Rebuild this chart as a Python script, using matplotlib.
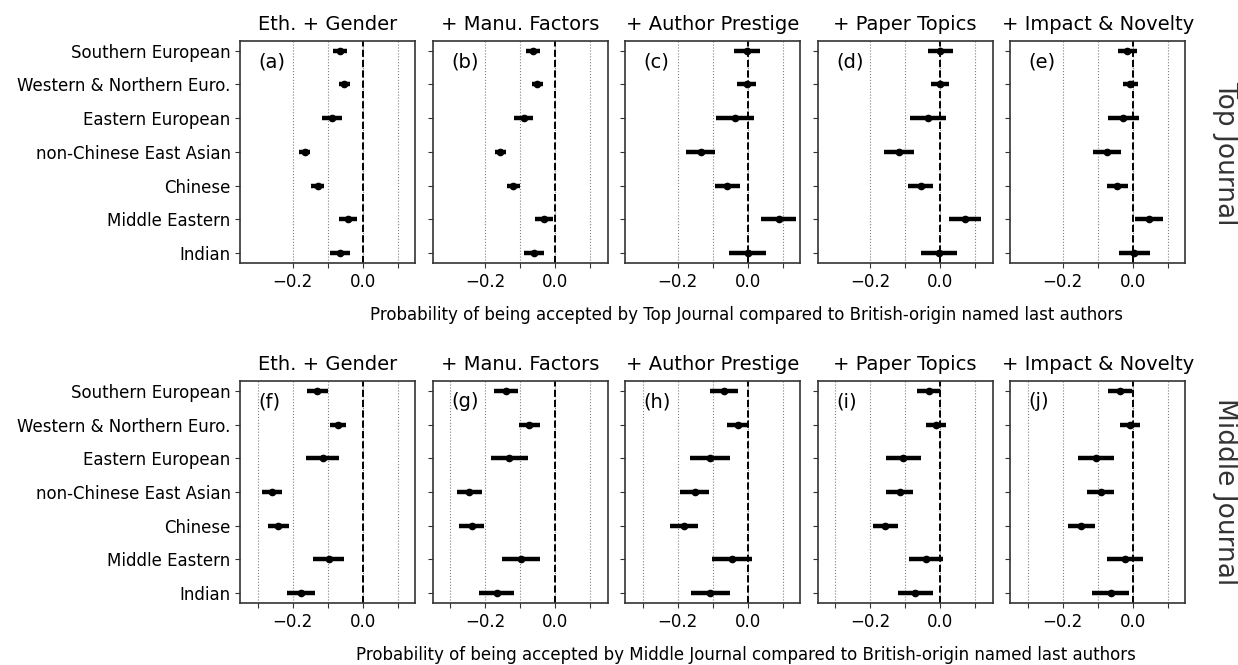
import matplotlib
matplotlib.use("Agg")
import matplotlib.pyplot as plt

# ethnicity groups, top to bottom
groups = [
    "Southern European",
    "Western & Northern Euro.",
    "Eastern European",
    "non-Chinese East Asian",
    "Chinese",
    "Middle Eastern",
    "Indian",
]
models = ["Eth. + Gender", "+ Manu. Factors", "+ Author Prestige",
          "+ Paper Topics", "+ Impact & Novelty"]
panel_tags = [["(a)", "(b)", "(c)", "(d)", "(e)"],
              ["(f)", "(g)", "(h)", "(i)", "(j)"]]
row_names = ["Top Journal", "Middle Journal"]

# point estimates (one list per model), top journal
top_est = [
    [-0.066, -0.053, -0.089, -0.166, -0.129, -0.042, -0.066],
    [-0.064, -0.051, -0.090, -0.157, -0.120, -0.033, -0.061],
    [-0.003, -0.003, -0.037, -0.135, -0.058, 0.088, 0.000],
    [0.000, 0.000, -0.035, -0.118, -0.056, 0.070, -0.004],
    [-0.015, -0.007, -0.027, -0.073, -0.044, 0.047, 0.005],
]
top_err = [
    [0.020, 0.016, 0.028, 0.016, 0.018, 0.026, 0.028],
    [0.020, 0.016, 0.027, 0.016, 0.018, 0.026, 0.028],
    [0.037, 0.027, 0.054, 0.041, 0.037, 0.050, 0.053],
    [0.035, 0.026, 0.051, 0.042, 0.035, 0.046, 0.051],
    [0.028, 0.022, 0.045, 0.039, 0.030, 0.040, 0.043],
]

# middle journal
mid_est = [
    [-0.130, -0.071, -0.115, -0.260, -0.242, -0.098, -0.177],
    [-0.141, -0.074, -0.132, -0.246, -0.239, -0.099, -0.168],
    [-0.068, -0.028, -0.108, -0.152, -0.182, -0.044, -0.107],
    [-0.033, -0.013, -0.105, -0.116, -0.157, -0.040, -0.071],
    [-0.037, -0.007, -0.105, -0.092, -0.147, -0.022, -0.063],
]
mid_err = [
    [0.030, 0.024, 0.046, 0.029, 0.030, 0.044, 0.041],
    [0.035, 0.029, 0.053, 0.036, 0.036, 0.054, 0.050],
    [0.039, 0.031, 0.056, 0.041, 0.041, 0.057, 0.056],
    [0.033, 0.028, 0.051, 0.038, 0.036, 0.049, 0.050],
    [0.035, 0.028, 0.052, 0.039, 0.038, 0.051, 0.052],
]

row_ticks = [[-0.2, -0.1, 0.0, 0.1], [-0.3, -0.2, -0.1, 0.0, 0.1]]

plt.rcParams["font.family"] = "DejaVu Sans"
plt.rcParams["font.size"] = 12

fig, axes = plt.subplots(2, 5, figsize=(12.38, 6.65), dpi=100, sharey=True)
fig.subplots_adjust(left=0.1941, right=0.9574, top=0.9388, bottom=0.0932,
                    wspace=0.099, hspace=0.53)

ypos = list(range(len(groups)))[::-1]

for r, (est_rows, err_rows) in enumerate([(top_est, top_err), (mid_est, mid_err)]):
    for c in range(len(models)):
        ax = axes[r, c]
        ax.errorbar(est_rows[c], ypos, xerr=err_rows[c], fmt="o", color="black",
                    ms=4.5, elinewidth=3.2, capsize=0, zorder=3)
        ax.axvline(0, color="black", ls="--", lw=1.4, zorder=2)
        ax.set_xlim(-0.35, 0.15)
        ax.set_ylim(-0.3, 6.3)
        ticks = row_ticks[r]
        ax.set_xticks(ticks)
        ax.set_xticklabels(["\u22120.2" if t == -0.2 else ("0.0" if t == 0 else "")
                            for t in ticks])
        ax.grid(axis="x", color="gray", ls=":", lw=0.8, zorder=0)
        ax.set_title(models[c], fontsize=14, pad=8)
        ax.text(0.105, 0.905, panel_tags[r][c], transform=ax.transAxes,
                fontsize=14, ha="left", va="center")
        for sp in ax.spines.values():
            sp.set_color("#333333")
            sp.set_linewidth(1.2)
        ax.tick_params(colors="#333333", labelcolor="black")
        if c == 0:
            ax.set_yticks(ypos)
            ax.set_yticklabels(groups)

fig.text(0.6026, 1 - 315 / 665,
         "Probability of being accepted by Top Journal compared to British-origin named last authors",
         ha="center", va="center", fontsize=12)
fig.text(0.6026, 1 - 655 / 665,
         "Probability of being accepted by Middle Journal compared to British-origin named last authors",
         ha="center", va="center", fontsize=12)

fig.text(1225 / 1238, 1 - 153 / 665, row_names[0], rotation=-90,
         ha="center", va="center", fontsize=19, color="#333333")
fig.text(1225 / 1238, 1 - 492 / 665, row_names[1], rotation=-90,
         ha="center", va="center", fontsize=19, color="#333333")

fig.savefig("out.png", dpi=100)
